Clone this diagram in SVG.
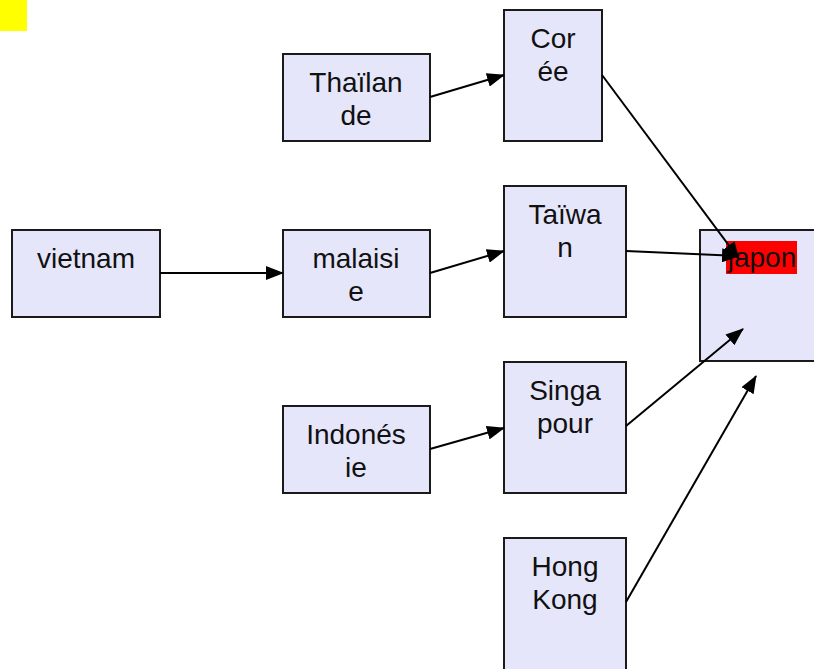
<svg xmlns="http://www.w3.org/2000/svg" width="814" height="669" viewBox="0 0 814 669">
<style>
.box{fill:#e6e6fa;stroke:#1a1a1a;stroke-width:2}
.t{font-family:"Liberation Sans",Arial,sans-serif;font-size:28px;fill:#111;text-anchor:middle}
.e{stroke:#000;stroke-width:2;fill:none;marker-end:url(#ah)}
</style>
<defs>
<marker id="ah" markerUnits="userSpaceOnUse" markerWidth="18" markerHeight="14" refX="17" refY="7" orient="auto">
<path d="M0,0 L18,7 L0,14 z" fill="#000"/>
</marker>
</defs>
<rect x="0" y="0" width="27" height="31" fill="#ffff00"/>
<g id="vietnam"><rect class="box" x="12" y="230" width="148" height="87"/><text class="t" x="86" y="268">vietnam</text></g>
<g id="thailande"><rect class="box" x="283" y="54" width="147" height="87"/><text class="t" x="356" y="92">Thaïlan</text><text class="t" x="356" y="125">de</text></g>
<g id="malaisie"><rect class="box" x="283" y="230" width="147" height="87"/><text class="t" x="356" y="268">malaisi</text><text class="t" x="356" y="301">e</text></g>
<g id="indonesie"><rect class="box" x="283" y="406" width="147" height="87"/><text class="t" x="356" y="444">Indonés</text><text class="t" x="356" y="477">ie</text></g>
<g id="coree"><rect class="box" x="504" y="10" width="98" height="131"/><text class="t" x="553" y="48">Cor</text><text class="t" x="553" y="81">ée</text></g>
<g id="taiwan"><rect class="box" x="504" y="186" width="122" height="131"/><text class="t" x="565" y="224">Taïwa</text><text class="t" x="565" y="257">n</text></g>
<g id="singapour"><rect class="box" x="504" y="362" width="122" height="131"/><text class="t" x="565" y="400">Singa</text><text class="t" x="565" y="433">pour</text></g>
<g id="hongkong"><rect class="box" x="504" y="538" width="122" height="140"/><text class="t" x="565" y="576">Hong</text><text class="t" x="565" y="609">Kong</text></g>
<g id="japon"><rect class="box" x="700" y="230" width="130" height="131"/><rect x="726" y="241" width="71" height="33" fill="#ff0000"/><text class="t" x="762" y="267">japon</text></g>
<g id="edges">
<line class="e" x1="160" y1="273" x2="283" y2="273"/>
<line class="e" x1="430" y1="97" x2="504" y2="75"/>
<line class="e" x1="430" y1="273" x2="504" y2="251"/>
<line class="e" x1="430" y1="449" x2="504" y2="428"/>
<line class="e" x1="602" y1="75" x2="739" y2="259"/>
<line class="e" x1="626" y1="251" x2="739" y2="256"/>
<line class="e" x1="626" y1="426" x2="743" y2="329"/>
<line class="e" x1="626" y1="602" x2="756" y2="376"/>
</g>
</svg>
